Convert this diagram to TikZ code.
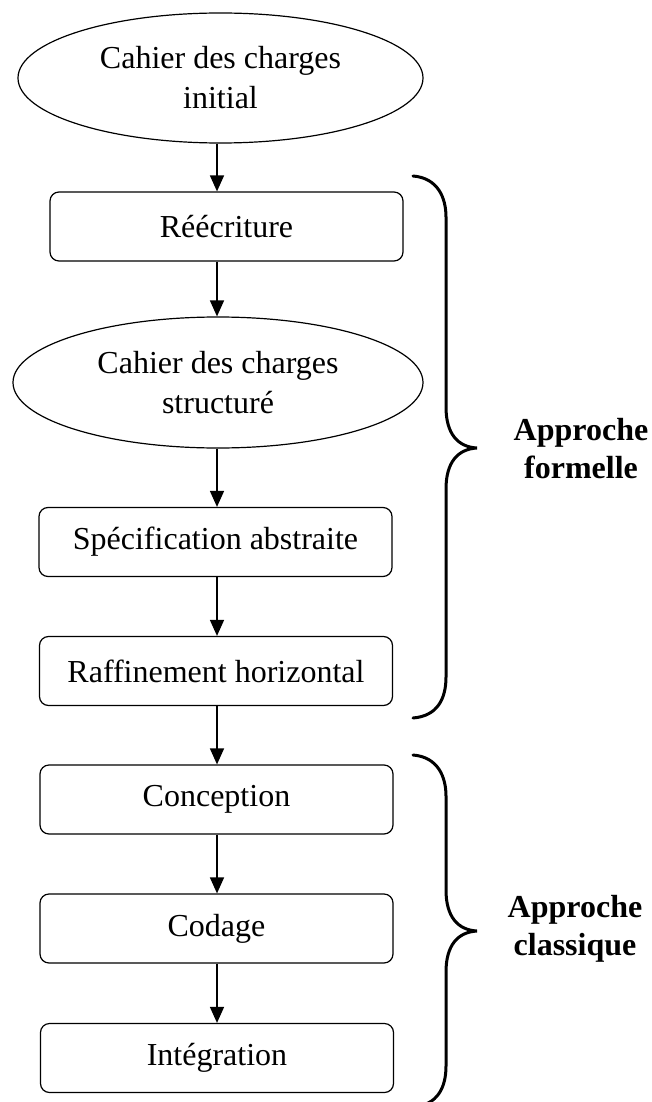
\documentclass[tikz,border=0pt]{standalone}
\usepackage{fontspec}
\setmainfont{Liberation Serif}
\usetikzlibrary{shapes.geometric,arrows.meta}
\tikzset{
  base/.style={draw=black, line width=1.2pt, align=center, inner sep=0pt,
    font=\fontsize{32}{40}\selectfont},
  ell/.style={base, ellipse},
  stepbox/.style={base, rectangle, rounded corners=9pt, minimum width=353pt, minimum height=69pt},
  arr/.style={line width=1.5pt, -{Triangle[length=16pt,width=14pt]}},
  brace/.style={line width=3pt, line cap=round},
  lbl/.style={align=center, font=\fontsize{32}{38}\selectfont\bfseries}
}
\begin{document}
\begin{tikzpicture}[x=1pt,y=-1pt]
\useasboundingbox (0,0) rectangle (651,1102);
\coordinate (ax) at (217,0);
\node[ell, minimum width=405pt, minimum height=130pt] (e1) at (220.5,78) {Cahier des charges\\initial};
\node[stepbox] (r1) at (226.5,226.5) {Réécriture};
\node[ell, minimum width=410pt, minimum height=131pt] (e2) at (218,382.5) {Cahier des charges\\structuré};
\node[stepbox] (s1) at (215.5,542) {Spécification abstraite};
\node[stepbox] (h1) at (216,671) {Raffinement horizontal};
\node[stepbox] (c1) at (216.5,799.5) {Conception};
\node[stepbox] (c2) at (216.5,928.5) {Codage};
\node[stepbox] (i1) at (217,1058) {Intégration};

\draw[arr] (e1.south -| ax) -- (r1.north -| ax);
\draw[arr] (r1.south -| ax) -- (e2.north -| ax);
\draw[arr] (e2.south -| ax) -- (s1.north -| ax);
\draw[arr] (s1.south -| ax) -- (h1.north -| ax);
\draw[arr] (h1.south -| ax) -- (c1.north -| ax);
\draw[arr] (c1.south -| ax) -- (c2.north -| ax);
\draw[arr] (c2.south -| ax) -- (i1.north -| ax);

% brace formelle
\draw[brace] (413,176) .. controls (438,178) and (446,198) .. (446,217)
  -- (446,407) .. controls (446,434) and (458,447) .. (477,448)
  .. controls (458,449) and (446,462) .. (446,489)
  -- (446,677) .. controls (446,698) and (438,716) .. (413,718);
\node[lbl] (f1) at (581,449) {Approche\\formelle};

% brace classique
\draw[brace] (413,755) .. controls (438,757) and (446,777) .. (446,796)
  -- (446,890) .. controls (446,917) and (458,930) .. (477,931)
  .. controls (458,932) and (446,945) .. (446,972)
  -- (446,1066) .. controls (446,1087) and (438,1105) .. (413,1107);
\node[lbl] (k1) at (575,929) {Approche\\classique};
\end{tikzpicture}
\end{document}
